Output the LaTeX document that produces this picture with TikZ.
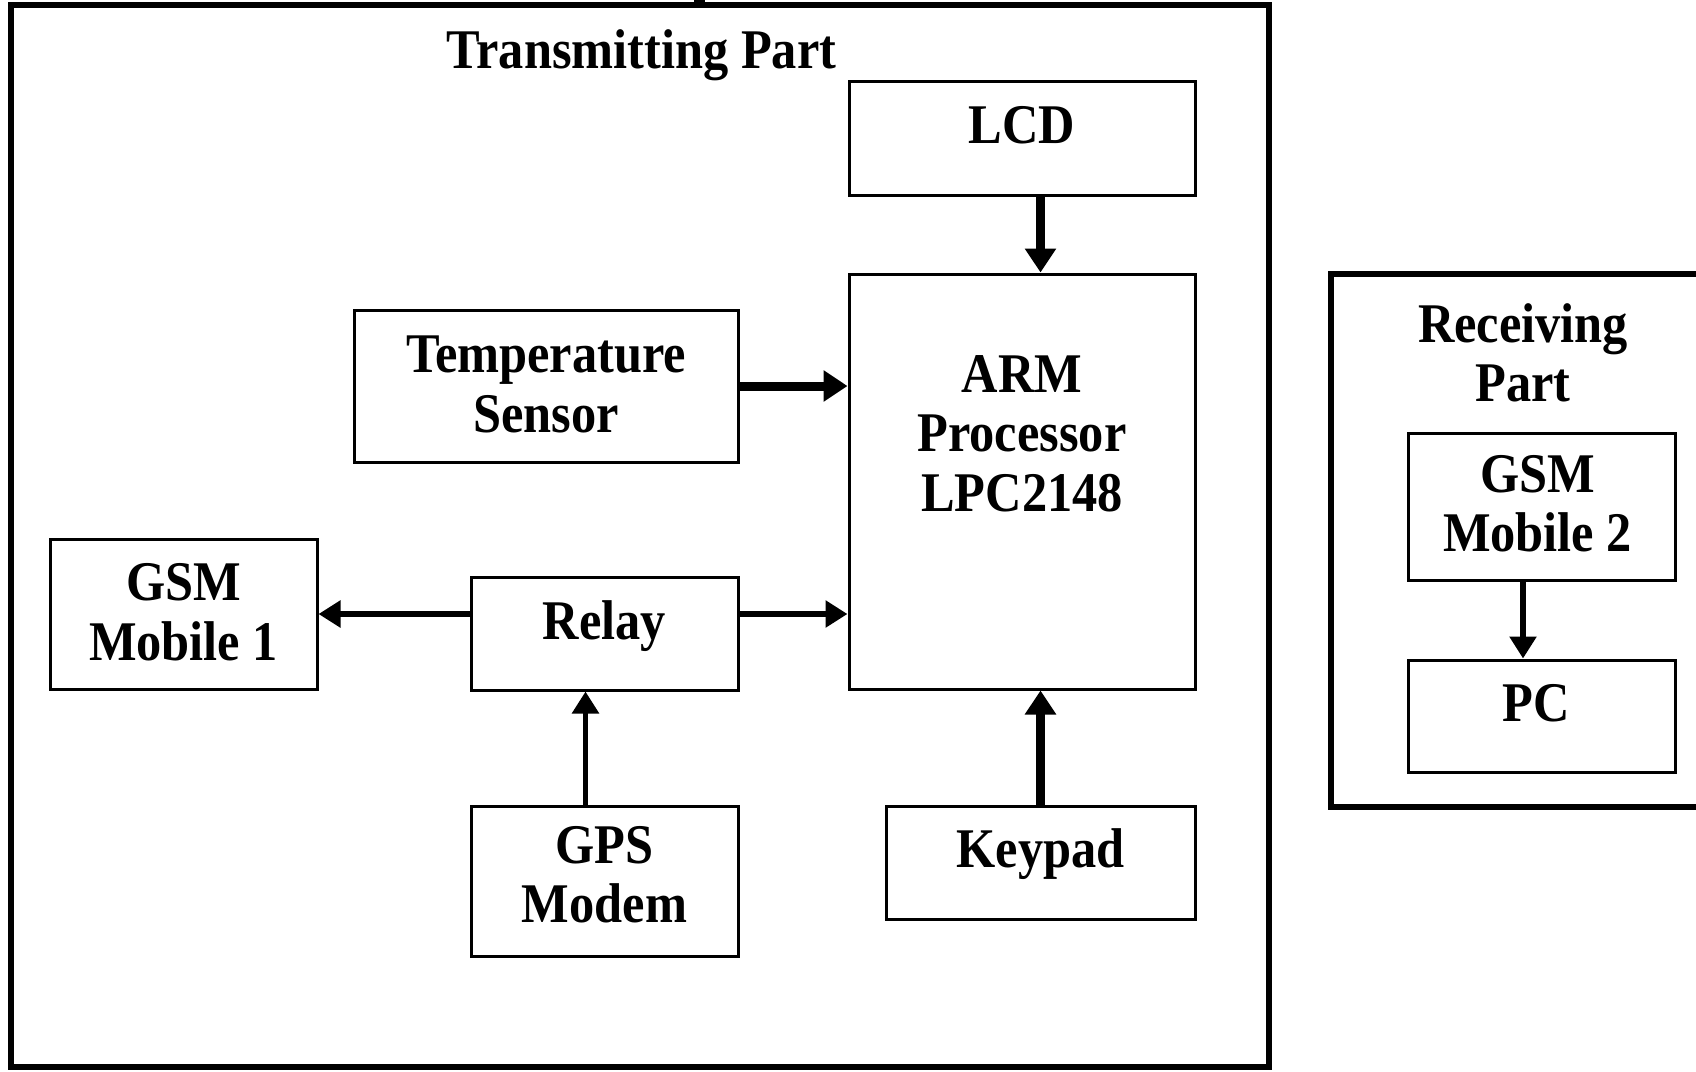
\documentclass[tikz,border=0pt]{standalone}
\usepackage{fontspec}
\setmainfont{Liberation Serif}[FakeStretch=0.9]
\usetikzlibrary{arrows.meta}
\newcommand\dtxt{\bfseries\fontsize{28pt}{29.75pt}\selectfont}
\begin{document}
\begin{tikzpicture}[x=0.5pt,y=-0.5pt,
  frame/.style={draw, line width=2.75pt, inner sep=0pt},
  blk/.style={draw, line width=1.5pt, inner sep=0pt},
  lbl/.style={align=center, font=\dtxt, inner sep=0pt},
  thk/.style={line width=4.5pt, -{Triangle[length=12pt,width=15pt]}},
  thn/.style={line width=2.75pt, -{Triangle[length=11pt,width=13pt]}}]
\useasboundingbox (0,0) rectangle (1696,1071);
\clip (0,0) rectangle (1696,1071);
% frames
\node[frame, minimum width=629pt, minimum height=531pt] (tx) at (640,536) {};
\fill (694,0) rectangle (705,5);
\node[lbl] (txtitle) at (641.5,56.1) {\strut Transmitting Part};
\node[frame, minimum width=189.5pt, minimum height=266.5pt] (rx) at (1520.5,540.5) {};
\node[lbl] (rxtitle) at (1523,359.85) {\strut Receiving\\\strut Part};
% blocks
\node[blk, minimum width=173pt, minimum height=57pt,
  label={[lbl,yshift=3.45pt]center:\strut LCD}] (lcd) at (1022,138) {};
\node[blk, minimum width=173pt, minimum height=207.5pt,
  label={[lbl,yshift=20.95pt]center:\strut ARM\\\strut Processor\\\strut LPC2148}] (arm) at (1022,481.5) {};
\node[blk, minimum width=192pt, minimum height=76pt,
  label={[lbl,yshift=-2.4pt]center:\strut Temperature\\\strut Sensor}] (temp) at (546,386) {};
\node[blk, minimum width=133.5pt, minimum height=75pt,
  label={[lbl,yshift=-2.4pt]center:\strut GSM\\\strut Mobile 1}] (gsm1) at (183.5,614) {};
\node[blk, minimum width=133.5pt, minimum height=56.5pt,
  label={[lbl,yshift=3.2pt]center:\strut Relay}] (relay) at (604.5,633.5) {};
\node[blk, minimum width=133.5pt, minimum height=75pt,
  label={[lbl]center:\strut GPS\\\strut Modem}] (gps) at (604.5,881) {};
\node[blk, minimum width=154.5pt, minimum height=56.5pt,
  label={[lbl,yshift=3.7pt]center:\strut Keypad}] (keypad) at (1040.5,862.5) {};
\node[blk, minimum width=133.5pt, minimum height=73.5pt,
  label={[lbl,yshift=-1.7pt,xshift=-2pt]center:\strut GSM\\\strut Mobile 2}] (gsm2) at (1541.5,506.5) {};
\node[blk, minimum width=133.5pt, minimum height=56pt,
  label={[lbl,yshift=3.45pt,xshift=-2.5pt]center:\strut PC}] (pc) at (1541.5,716) {};
% connectors
\draw[thk] (lcd.south -| keypad) -- (arm.north -| keypad);
\draw[thk] (keypad.north) -- (arm.south -| keypad);
\draw[thk] (temp.east) -- (temp.east -| arm.west);
\draw[thn] (relay.east |- gsm1) -- (arm.west |- gsm1);
\draw[thn] (relay.west |- gsm1) -- (gsm1.east);
\draw[thn] ([xshift=-9.5pt]gps.north) -- ([xshift=-9.5pt]relay.south);
\draw[thn] ([xshift=-9.25pt]gsm2.south) -- ([xshift=-9.25pt]pc.north);
\end{tikzpicture}
\end{document}
